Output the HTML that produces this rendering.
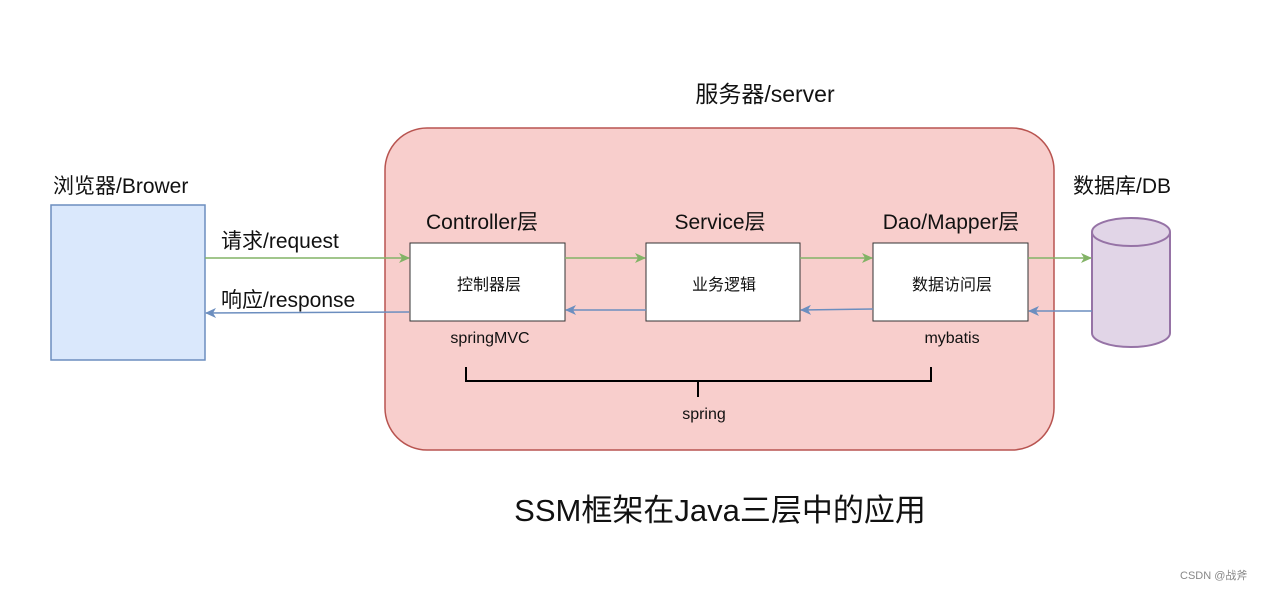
<!DOCTYPE html>
<html><head><meta charset="utf-8"><style>
html,body{margin:0;padding:0;background:#fff;}
svg text{font-family:"Liberation Sans","Noto Sans CJK SC",sans-serif;fill:#111;}
</style></head><body>
<svg width="1263" height="590" viewBox="0 0 1263 590" xmlns="http://www.w3.org/2000/svg">
<defs>
<marker id="ag" markerWidth="12" markerHeight="10" refX="10" refY="5" orient="auto" markerUnits="userSpaceOnUse"><path d="M0,0 L11,5 L0,10 L3,5 Z" fill="#82b366"/></marker>
<marker id="ab" markerWidth="12" markerHeight="10" refX="10" refY="5" orient="auto" markerUnits="userSpaceOnUse"><path d="M0,0 L11,5 L0,10 L3,5 Z" fill="#6c8ebf"/></marker>
</defs>
<text x="765" y="102" font-size="23" text-anchor="middle">服务器/server</text>
<rect x="385" y="128" width="669" height="322" rx="42" fill="#f8cecc" stroke="#b85450" stroke-width="1.5"/>
<text x="53" y="193" font-size="21">浏览器/Brower</text>
<rect x="51" y="205" width="154" height="155" fill="#dae8fc" stroke="#6c8ebf" stroke-width="1.5"/>
<text x="1073" y="193" font-size="21">数据库/DB</text>
<path d="M1092,232 L1092,333 A39,14 0 0 0 1170,333 L1170,232" fill="#e1d5e7" stroke="#9673a6" stroke-width="2"/>
<ellipse cx="1131" cy="232" rx="39" ry="14" fill="#e1d5e7" stroke="#9673a6" stroke-width="2"/>
<text x="482" y="229" font-size="21" text-anchor="middle">Controller层</text>
<text x="720" y="229" font-size="21" text-anchor="middle">Service层</text>
<text x="951" y="229" font-size="21" text-anchor="middle">Dao/Mapper层</text>
<rect x="410" y="243" width="155" height="78" fill="#fff" stroke="#333" stroke-width="1"/>
<rect x="646" y="243" width="154" height="78" fill="#fff" stroke="#333" stroke-width="1"/>
<rect x="873" y="243" width="155" height="78" fill="#fff" stroke="#333" stroke-width="1"/>
<text x="489" y="290" font-size="16" text-anchor="middle">控制器层</text>
<text x="724" y="290" font-size="16" text-anchor="middle">业务逻辑</text>
<text x="952" y="290" font-size="16" text-anchor="middle">数据访问层</text>
<text x="221" y="248" font-size="21">请求/request</text>
<text x="221" y="307" font-size="21">响应/response</text>
<g stroke-width="1.5" fill="none">
<line x1="205" y1="258" x2="409" y2="258" stroke="#82b366" marker-end="url(#ag)"/>
<line x1="565" y1="258" x2="645" y2="258" stroke="#82b366" marker-end="url(#ag)"/>
<line x1="800" y1="258" x2="872" y2="258" stroke="#82b366" marker-end="url(#ag)"/>
<line x1="1028" y1="258" x2="1091" y2="258" stroke="#82b366" marker-end="url(#ag)"/>
<line x1="409" y1="312" x2="206" y2="313" stroke="#6c8ebf" marker-end="url(#ab)"/>
<line x1="646" y1="310" x2="566" y2="310" stroke="#6c8ebf" marker-end="url(#ab)"/>
<line x1="873" y1="309" x2="801" y2="310" stroke="#6c8ebf" marker-end="url(#ab)"/>
<line x1="1092" y1="311" x2="1029" y2="311" stroke="#6c8ebf" marker-end="url(#ab)"/>
</g>
<text x="490" y="343" font-size="16" text-anchor="middle">springMVC</text>
<text x="952" y="343" font-size="16" text-anchor="middle">mybatis</text>
<path d="M466,367 L466,381 L931,381 L931,367 M698,381 L698,397" stroke="#000" stroke-width="2" fill="none"/>
<text x="704" y="419" font-size="16" text-anchor="middle">spring</text>
<text x="720" y="521" font-size="31" text-anchor="middle">SSM框架在Java三层中的应用</text>
<text x="1180" y="579" font-size="11" style="fill:#888">CSDN @战斧</text>
</svg>
</body></html>
